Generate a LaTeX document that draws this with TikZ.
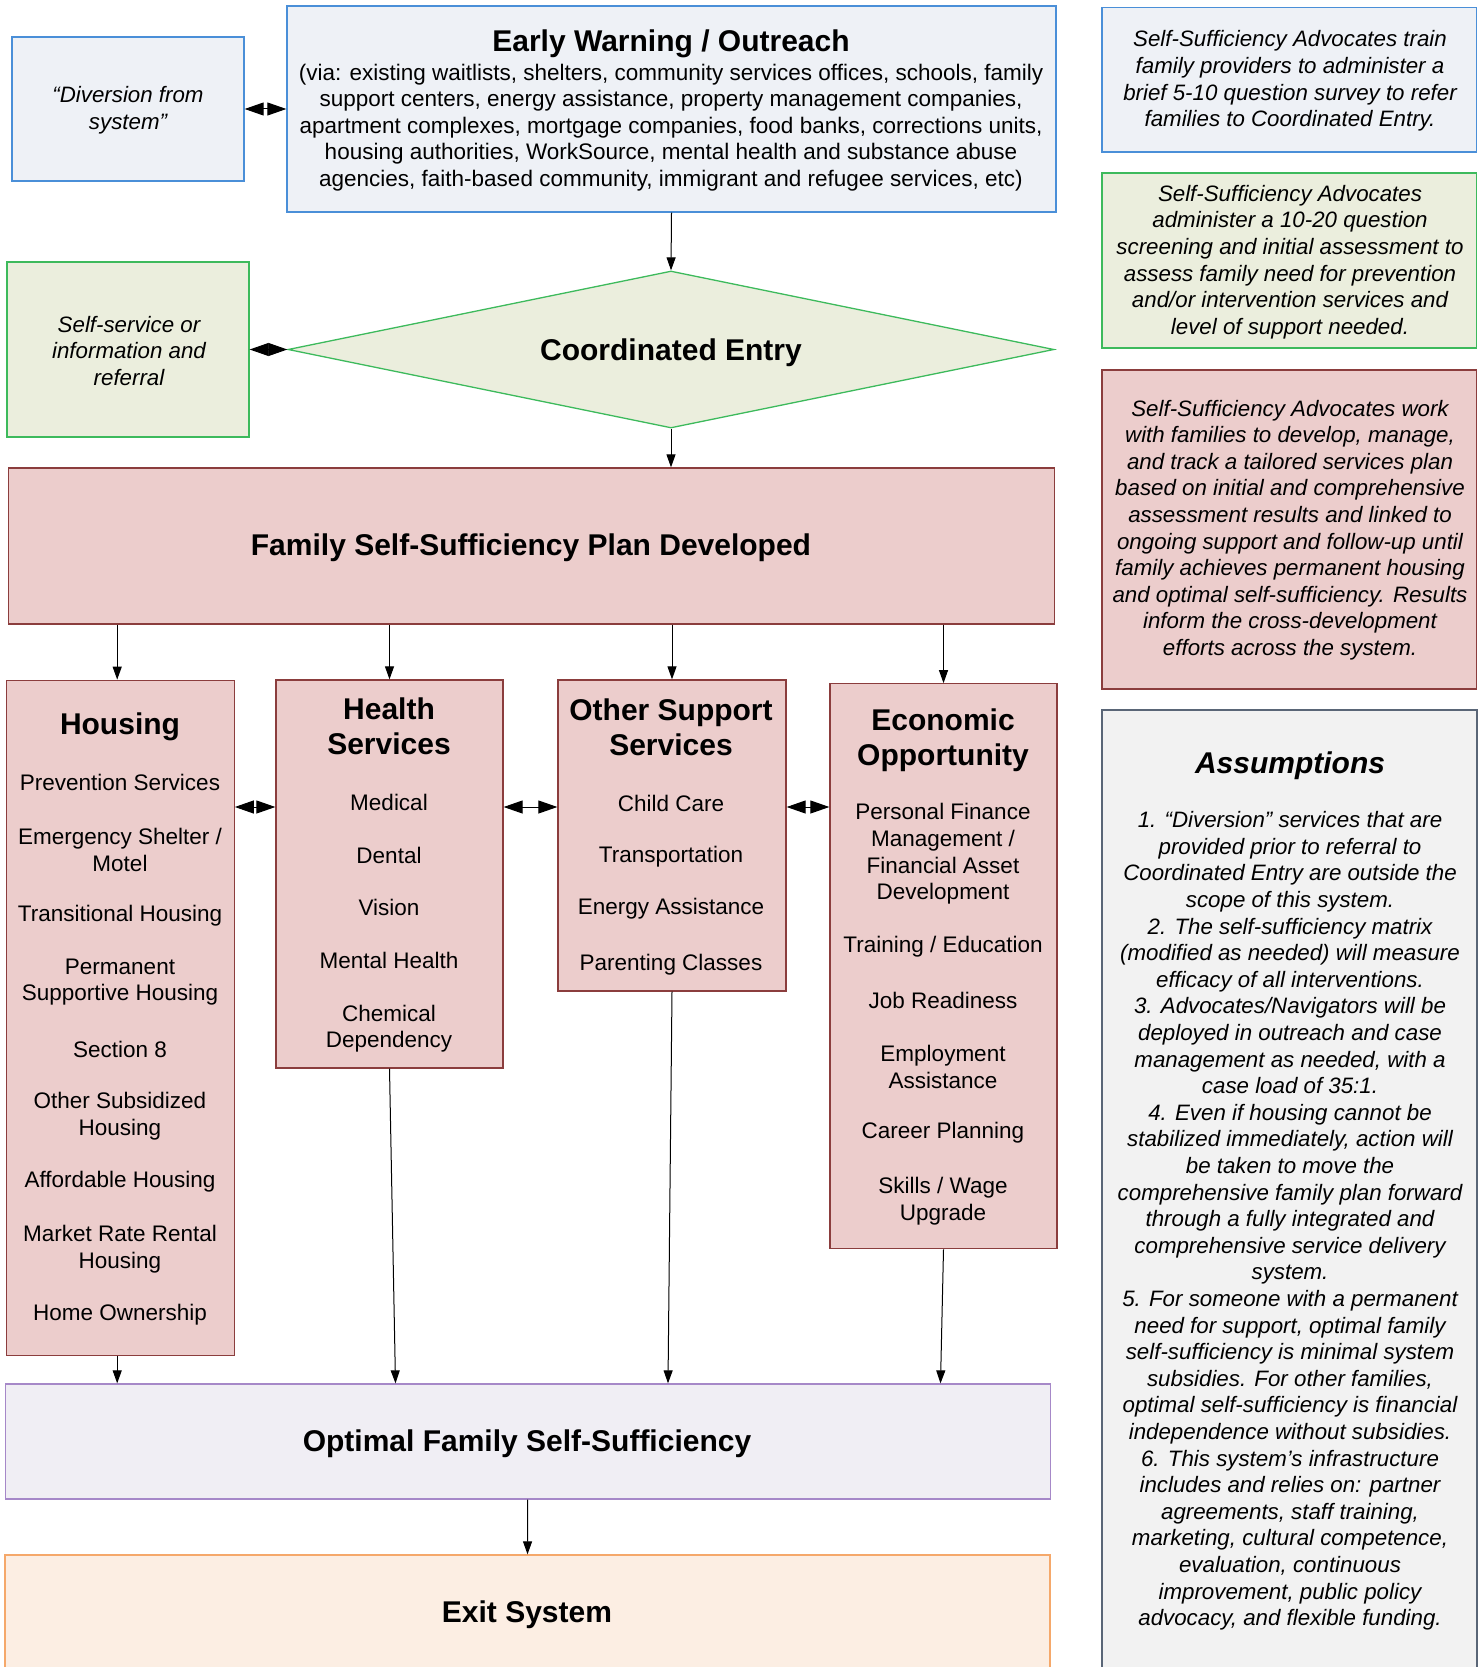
\documentclass[tikz,border=0pt]{standalone}
\usepackage{fontspec}
\setmainfont{Liberation Sans}
\usetikzlibrary{arrows.meta,shapes.geometric}
\definecolor{bluefill}{HTML}{EEF1F6}
\definecolor{blueline}{HTML}{4A8FD8}
\definecolor{greenfill}{HTML}{EBEEDD}
\definecolor{greenline}{HTML}{3DBA5C}
\definecolor{pinkfill}{HTML}{ECCDCC}
\definecolor{pinkline}{HTML}{8B3D3D}
\definecolor{optfill}{HTML}{F0EEF4}
\definecolor{optline}{HTML}{A688C8}
\definecolor{exitfill}{HTML}{FCEEE3}
\definecolor{exitline}{HTML}{F5A86A}
\definecolor{grayfill}{HTML}{F2F2F2}
\definecolor{grayline}{HTML}{5A6677}
\begin{document}
\begin{tikzpicture}[x=1pt,y=-1pt,
  box/.style={rectangle, draw, line width=1.3pt, inner sep=0pt},
  bluebox/.style={box, fill=bluefill, draw=blueline},
  greenbox/.style={box, fill=greenfill, draw=greenline},
  pinkbox/.style={box, fill=pinkfill, draw=pinkline},
  optbox/.style={box, fill=optfill, draw=optline},
  exitbox/.style={box, fill=exitfill, draw=exitline},
  graybox/.style={box, fill=grayfill, draw=grayline},
  body/.style={align=center, inner sep=0pt, yshift=-2pt, font=\fontsize{22.5}{26.6}\selectfont},
  bodyit/.style={align=center, inner sep=0pt, yshift=-2pt, font=\fontsize{22.3}{26.6}\selectfont\itshape},
  ttl/.style={align=center, inner sep=0pt, yshift=-3.5pt, font=\fontsize{30}{35}\selectfont\bfseries},
  arr/.style={-{Triangle[length=13pt,width=9pt]}, line width=1pt},
  dbl/.style={{Triangle[length=19pt,width=13pt]}-{Triangle[length=19pt,width=13pt]}, line width=1pt},
]
\useasboundingbox (0,0) rectangle (1482,1667);
\clip (0,0) rectangle (1482,1667);

% top left
\node[bluebox, minimum width=232, minimum height=144] (div) at (128,109) {};
\node[bodyit] (divt) at (128,108) {“Diversion from\\system”};

\node[bluebox, minimum width=769, minimum height=206] (ew) at (671.5,109) {};
\node[ttl] (ewt) at (671,40) {Early Warning / Outreach};
\node[body] (ewb) at (671,125.5) {(via: existing waitlists, shelters, community services offices, schools, family\\
support centers, energy assistance, property management companies,\\
apartment complexes, mortgage companies, food banks, corrections units,\\
housing authorities, WorkSource, mental health and substance abuse\\
agencies, faith-based community, immigrant and refugee services, etc)};

\node[greenbox, minimum width=242, minimum height=175] (ss) at (128,349.5) {};
\node[bodyit] (sst) at (129,349) {Self-service or\\information and\\referral};

\node[diamond, draw=greenline, fill=greenfill, line width=1.3pt, inner sep=0pt,
      minimum width=766, minimum height=157] (ce) at (671,349.5) {};
\node[ttl] (cet) at (671,349) {Coordinated Entry};

\node[pinkbox, minimum width=1046, minimum height=156] (plan) at (531.5,546) {};
\node[ttl] (plant) at (531,544) {Family Self-Sufficiency Plan Developed};

% columns
\node[pinkbox, minimum width=228, minimum height=675] (hous) at (120.2,1017.8) {};
\node[pinkbox, minimum width=227, minimum height=388] (hlth) at (389.5,874) {};
\node[pinkbox, minimum width=228, minimum height=311] (oth) at (672,835.5) {};
\node[pinkbox, minimum width=227, minimum height=565] (econ) at (943.5,966.3) {};

\node[ttl] (houst) at (120,723) {Housing};
\node[body] (h1) at (120,780) {Prevention Services};
\node[body] (h2) at (120,848) {Emergency Shelter /\\Motel};
\node[body] (h3) at (120,914) {Transitional Housing};
\node[body] (h4) at (120,980) {Permanent\\Supportive Housing};
\node[body] (h5) at (120,1047) {Section 8};
\node[body] (h6) at (120,1114) {Other Subsidized\\Housing};
\node[body] (h7) at (120,1180) {Affordable Housing};
\node[body] (h8) at (120,1247) {Market Rate Rental\\Housing};
\node[body] (h9) at (120,1313) {Home Ownership};

\node[ttl] (hlt) at (389,722.5) {Health\\Services};
\node[body] (m1) at (389,800) {Medical};
\node[body] (m2) at (389,853) {Dental};
\node[body] (m3) at (389,905.5) {Vision};
\node[body] (m4) at (389,958.5) {Mental Health};
\node[body] (m5) at (389,1026.5) {Chemical\\Dependency};

\node[ttl] (otht) at (671,723.5) {Other Support\\Services};
\node[body] (o1) at (671,801) {Child Care};
\node[body] (o2) at (671,855) {Transportation};
\node[body] (o3) at (671,907) {Energy Assistance};
\node[body] (o4) at (671,963) {Parenting Classes};

\node[ttl] (ect) at (943,737) {Economic\\Opportunity};
\node[body] (e1) at (943,852) {Personal Finance\\Management /\\Financial Asset\\Development};
\node[body] (e2) at (943,945) {Training / Education};
\node[body] (e3) at (943,998) {Job Readiness};
\node[body] (e4) at (943,1065) {Employment\\Assistance};
\node[body] (e5) at (943,1131) {Career Planning};
\node[body] (e6) at (943,1199) {Skills / Wage\\Upgrade};

% bottom
\node[optbox, minimum width=1045, minimum height=115] (opt) at (527.7,1441.5) {};
\node[ttl] (optt) at (527,1440.5) {Optimal Family Self-Sufficiency};
\node[exitbox, minimum width=1045, minimum height=135] (exit) at (527.5,1622.5) {};
\node[ttl] (exitt) at (527,1611) {Exit System};

% right column
\node[bluebox, minimum width=374.6, minimum height=144.6] (r1) at (1289.3,79.7) {};
\node[bodyit] (r1t) at (1290,79) {Self-Sufficiency Advocates train\\family providers to administer a\\brief 5-10 question survey to refer\\families to Coordinated Entry.};
\node[greenbox, minimum width=374.6, minimum height=175] (r2) at (1289.3,260.5) {};
\node[bodyit] (r2t) at (1290,260) {Self-Sufficiency Advocates\\administer a 10-20 question\\screening and initial assessment to\\assess family need for prevention\\and/or intervention services and\\level of support needed.};
\node[pinkbox, minimum width=374.6, minimum height=319] (r3) at (1289.3,529.5) {};
\node[bodyit] (r3t) at (1290,528) {Self-Sufficiency Advocates work\\with families to develop, manage,\\and track a tailored services plan\\based on initial and comprehensive\\assessment results and linked to\\ongoing support and follow-up until\\family achieves permanent housing\\and optimal self-sufficiency. Results\\inform the cross-development\\efforts across the system.};
\node[graybox, minimum width=375, minimum height=980] (r4) at (1289.5,1200) {};
\node[align=center, inner sep=0pt, yshift=-3.5pt, font=\fontsize{30}{35}\selectfont\bfseries\itshape] (r4h) at (1290,762) {Assumptions};
\node[bodyit] (r4t) at (1290,1219) {1. “Diversion” services that are\\provided prior to referral to\\Coordinated Entry are outside the\\scope of this system.\\2. The self-sufficiency matrix\\(modified as needed) will measure\\efficacy of all interventions.\\3. Advocates/Navigators will be\\deployed in outreach and case\\management as needed, with a\\case load of 35:1.\\4. Even if housing cannot be\\stabilized immediately, action will\\be taken to move the\\comprehensive family plan forward\\through a fully integrated and\\comprehensive service delivery\\system.\\5. For someone with a permanent\\need for support, optimal family\\self-sufficiency is minimal system\\subsidies. For other families,\\optimal self-sufficiency is financial\\independence without subsidies.\\6. This system’s infrastructure\\includes and relies on: partner\\agreements, staff training,\\marketing, cultural competence,\\evaluation, continuous\\improvement, public policy\\advocacy, and flexible funding.};

% connectors
\coordinate (rowy) at (0,807);
\draw[dbl] (div.east) -- (ew.west);
\draw[dbl] (ss.east) -- (ce.west);
\draw[arr] (ew.south) -- (ce.north);
\draw[arr] (ce.south) -- (ce.south |- plan.north);
\draw[arr] ([xshift=-3pt]plan.south -| hous.north) -- ([xshift=-3pt]hous.north);
\draw[arr] (plan.south -| hlth.north) -- (hlth.north);
\draw[arr] (plan.south -| oth.north) -- (oth.north);
\draw[arr] (plan.south -| econ.north) -- (econ.north);
\draw[dbl] (hous.east |- rowy) -- (hlth.west |- rowy);
\draw[dbl] (hlth.east |- rowy) -- (oth.west |- rowy);
\draw[dbl] (oth.east |- rowy) -- (econ.west |- rowy);
\draw[arr] ([xshift=-3pt]hous.south) -- ([xshift=-3pt]hous.south |- opt.north);
\draw[arr] (hlth.south) -- ([xshift=6pt]hlth.south |- opt.north);
\draw[arr] (oth.south) -- ([xshift=-4pt]oth.south |- opt.north);
\draw[arr] (econ.south) -- ([xshift=-3pt]econ.south |- opt.north);
\draw[arr] (opt.south) -- (exit.north);
\end{tikzpicture}
\end{document}
